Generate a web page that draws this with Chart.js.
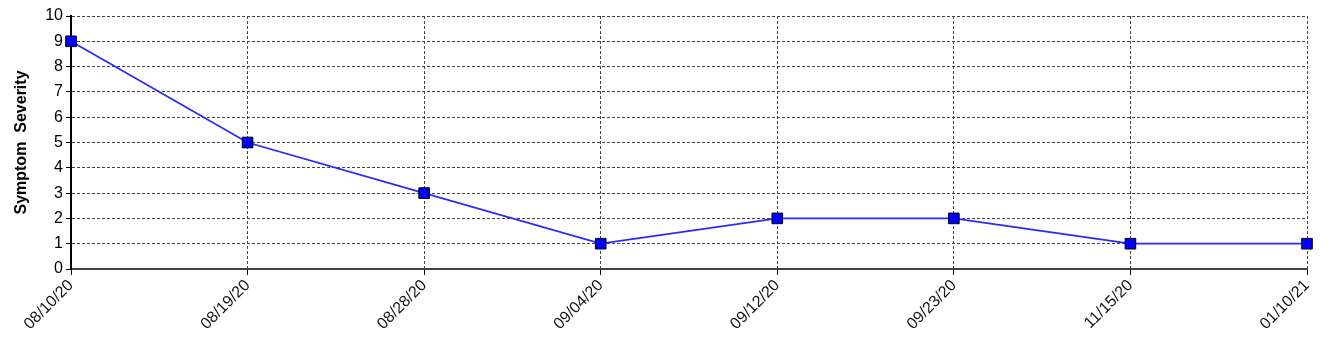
<!DOCTYPE html>
<html><head><meta charset="utf-8">
<script src="https://cdn.jsdelivr.net/npm/chart.js@4"></script>
<style>html,body{margin:0;padding:0;background:#fff;}#wrap{width:1332px;height:347px;}</style>
</head><body><div id="wrap"><canvas id="c" width="1332" height="347"></canvas></div>
<script>
const categories = ["08/10/20","08/19/20","08/28/20","09/04/20","09/12/20","09/23/20","11/15/20","01/10/21"];
const severity = [9,5,3,1,2,2,1,1];
const yTicks = [0,1,2,3,4,5,6,7,8,9,10];
const yTitle = "Symptom  Severity";

new Chart(document.getElementById('c'), {
  type: 'line',
  data: { labels: categories, datasets: [{
    data: severity, borderColor: '#2a2aff', borderWidth: 1.8,
    pointStyle: 'rect', pointRadius: 7.5, pointHoverRadius: 7.5,
    pointBackgroundColor: '#0000ff', pointBorderColor: '#000', pointBorderWidth: 1,
    tension: 0
  }]},
  options: {
    responsive: false, animation: false, devicePixelRatio: 1,
    layout: { padding: { left: 0, right: 25, top: 16, bottom: 0 } },
    plugins: { legend: { display: false }, tooltip: { enabled: false } },
    scales: {
      x: {
        type: 'category', offset: false,
        grid: { color: '#444', lineWidth: 1, tickLength: 6, tickColor: '#000', tickBorderDash: [], drawTicks: true },
        border: { display: true, color: '#444', width: 2, dash: [3,2] },
        ticks: { color: '#111', font: { family: 'Liberation Sans, Arial', size: 16 }, maxRotation: 45, minRotation: 45, autoSkip: false, padding: 1 },
        afterFit(s) { s.height = 78; }
      },
      y: {
        min: 0, max: 10,
        afterBuildTicks(s) { s.ticks = yTicks.map(v => ({ value: v })); },
        grid: { color: '#444', lineWidth: 1, tickLength: 5, tickColor: '#000', tickBorderDash: [] },
        border: { display: true, color: '#000', width: 2, dash: [3,2] },
        ticks: { color: '#000', font: { family: 'Liberation Sans, Arial', size: 16 }, padding: 3 },
        title: { display: true, text: yTitle, color: '#000', font: { family: 'Liberation Sans, Arial', size: 16, weight: 'bold' }, padding: { top: 12, bottom: 0 } },
        afterFit(s) { s.width = 71; }
      }
    }
  }
});
</script>
</body></html>
